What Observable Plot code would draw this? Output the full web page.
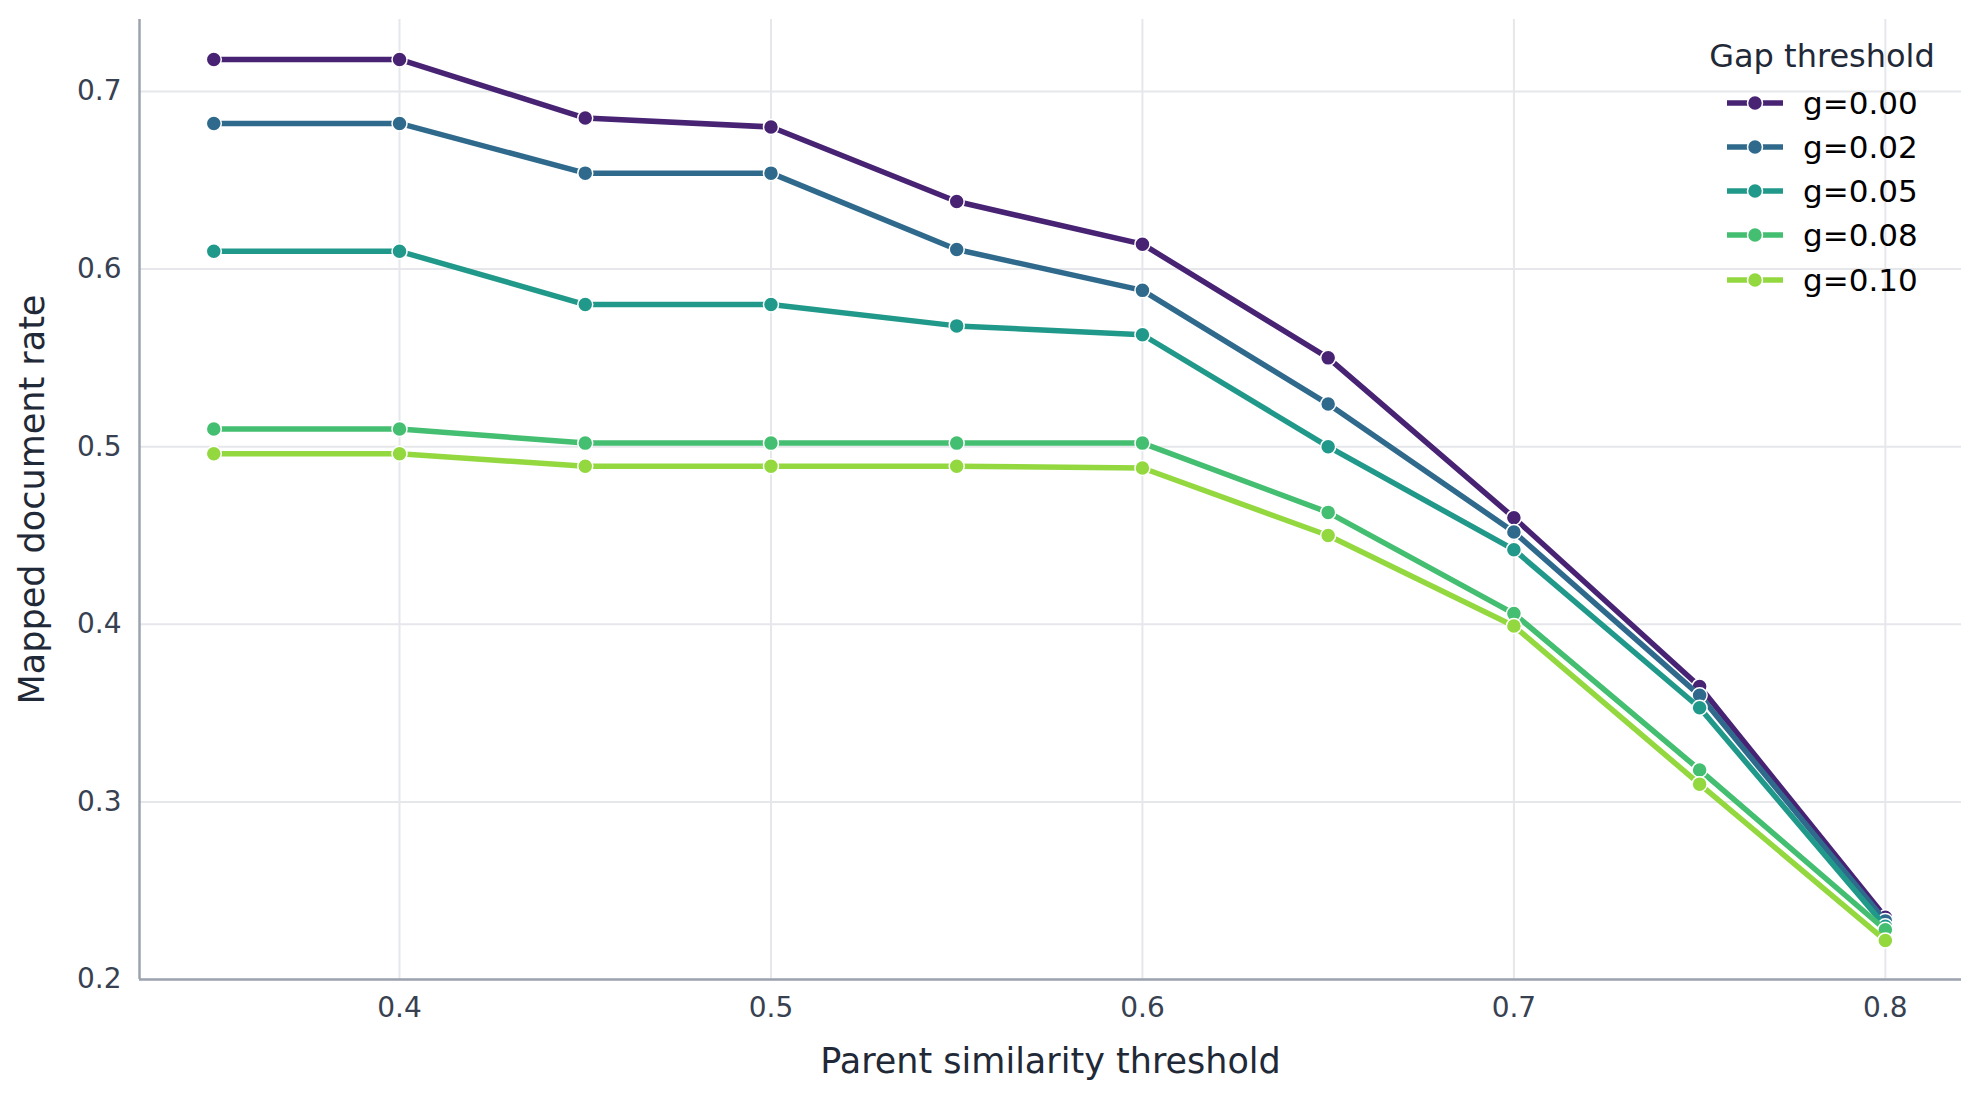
<!DOCTYPE html>
<html>
<head>
<meta charset="utf-8">
<script src="https://cdn.jsdelivr.net/npm/d3@7"></script>
<script src="https://cdn.jsdelivr.net/npm/@observablehq/plot@0.6"></script>
<style>
  body { margin: 0; background: #ffffff; font-family: "DejaVu Sans", sans-serif; }
  #wrap { position: relative; width: 1980px; height: 1099px; }
  #wrap svg text { font-family: "DejaVu Sans", sans-serif; }
  [aria-label="x-axis label"], [aria-label="y-axis label"] { font-size: 35px; fill: #1f2937; }
  #legend-title { position: absolute; left: 1680px; top: 40px; width: 284px; text-align: center;
    font-size: 32px; line-height: 32px; color: #1f2937; white-space: nowrap; }
  .lg-row { position: absolute; left: 1727px; height: 44px; display: flex; align-items: center; }
  .lg-row span { font-size: 31px; line-height: 44px; color: #000; margin-left: 20px; white-space: nowrap; }
</style>
</head>
<body>
<div id="wrap"></div>
<script>
// ---- data ----
const thresholds = [0.35, 0.40, 0.45, 0.50, 0.55, 0.60, 0.65, 0.70, 0.75, 0.80];
const seriesLabels = ["g=0.00", "g=0.02", "g=0.05", "g=0.08", "g=0.10"];
const g000 = [0.718, 0.718, 0.685, 0.680, 0.638, 0.614, 0.550, 0.460, 0.365, 0.235];
const g002 = [0.682, 0.682, 0.654, 0.654, 0.611, 0.588, 0.524, 0.452, 0.360, 0.233];
const g005 = [0.610, 0.610, 0.580, 0.580, 0.568, 0.563, 0.500, 0.442, 0.353, 0.230];
const g008 = [0.510, 0.510, 0.502, 0.502, 0.502, 0.502, 0.463, 0.406, 0.318, 0.228];
const g010 = [0.496, 0.496, 0.489, 0.489, 0.489, 0.488, 0.450, 0.399, 0.310, 0.222];
const seriesColors = ["#482374", "#2f6a8d", "#21998a", "#44be70", "#94d840"];
const xTicks = [0.4, 0.5, 0.6, 0.7, 0.8];
const yTicks = [0.2, 0.3, 0.4, 0.5, 0.6, 0.7];
const xDomain = [0.330, 0.8205];
const yDomain = [0.2, 0.7405];
const xLabel = "Parent similarity threshold";
const yLabel = "Mapped document rate";
const legendTitle = "Gap threshold";

const seriesValues = [g000, g002, g005, g008, g010];
const rows = seriesLabels.flatMap((s, i) =>
  thresholds.map((t, j) => ({ series: s, x: t, y: seriesValues[i][j] })));

const LW = 5.5, DR = 7.5;
const marks = [
  Plot.ruleX(xTicks, { stroke: "#e5e7eb", strokeWidth: 2 }),
  Plot.ruleY(yTicks, { stroke: "#e5e7eb", strokeWidth: 2 }),
  Plot.ruleX([xDomain[0]], { stroke: "#9ca3af", strokeWidth: 2.5 }),
  Plot.ruleY([yDomain[0]], { stroke: "#9ca3af", strokeWidth: 2.5 })
];
seriesLabels.forEach(s => {
  const d = rows.filter(r => r.series === s);
  marks.push(Plot.line(d, { x: "x", y: "y", stroke: "series", strokeWidth: LW, strokeLinejoin: "round" }));
  marks.push(Plot.dot(d, { x: "x", y: "y", fill: "series", stroke: "#ffffff", strokeWidth: 1.5, r: DR }));
});

const chart = Plot.plot({
  width: 1980,
  height: 1099,
  marginLeft: 139,
  marginRight: 19,
  marginTop: 19,
  marginBottom: 120,
  style: { fontSize: "28px", fontFamily: "DejaVu Sans", color: "#374151", background: "#ffffff" },
  x: { domain: xDomain, ticks: xTicks, tickSize: 0, tickPadding: 18, tickFormat: d => d.toFixed(1),
       label: xLabel, labelAnchor: "center", labelOffset: 93, labelArrow: "none" },
  y: { domain: yDomain, ticks: yTicks, tickSize: 0, tickPadding: 18, tickFormat: d => d.toFixed(1),
       label: yLabel, labelAnchor: "center", labelOffset: 120, labelArrow: "none" },
  color: { domain: seriesLabels, range: seriesColors },
  marks
});
const wrap = document.getElementById("wrap");
wrap.appendChild(chart);

// ---- legend (HTML overlay) ----
const title = document.createElement("div");
title.id = "legend-title";
title.textContent = legendTitle;
wrap.appendChild(title);
seriesLabels.forEach((s, i) => {
  const row = document.createElement("div");
  row.className = "lg-row";
  row.style.top = (80.7 + i * 44.2) + "px";
  const svg = d3.create("svg").attr("width", 56).attr("height", 44);
  svg.append("line").attr("x1", 0).attr("x2", 56).attr("y1", 22).attr("y2", 22)
    .attr("stroke", seriesColors[i]).attr("stroke-width", LW);
  svg.append("circle").attr("cx", 28).attr("cy", 22).attr("r", DR)
    .attr("fill", seriesColors[i]).attr("stroke", "#fff").attr("stroke-width", 1.5);
  row.appendChild(svg.node());
  const span = document.createElement("span");
  span.textContent = s;
  row.appendChild(span);
  wrap.appendChild(row);
});
</script>
</body>
</html>
